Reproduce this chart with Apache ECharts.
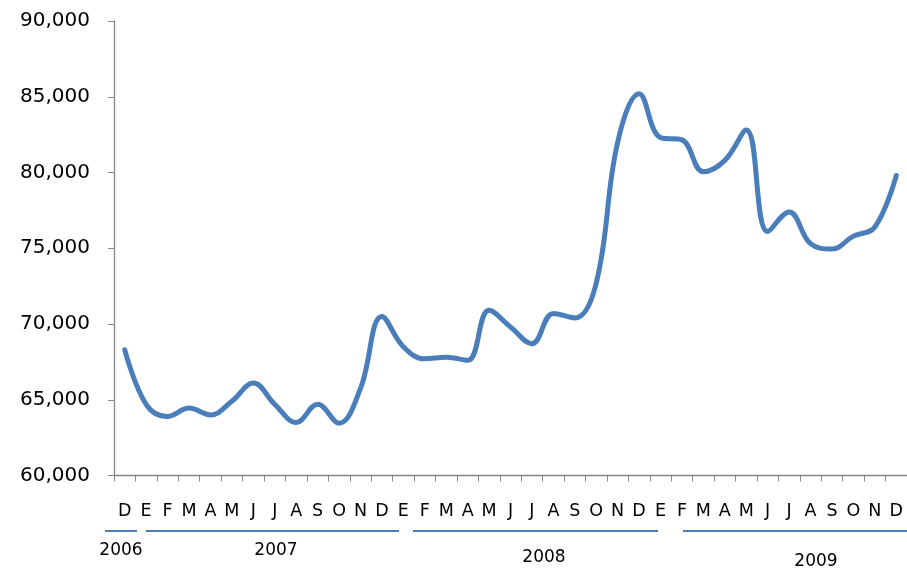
<!DOCTYPE html>
<html>
<head>
<meta charset="utf-8">
<script src="https://cdn.jsdelivr.net/npm/echarts@6/dist/echarts.min.js"></script>
<style>html,body{margin:0;padding:0;background:#fff;}#c{width:907px;height:568px;}</style>
</head>
<body>
<div id="c"></div>
<script>
var months = ["D","E","F","M","A","M","J","J","A","S","O","N","D","E","F","M","A","M","J","J","A","S","O","N","D","E","F","M","A","M","J","J","A","S","O","N","D"];
var values = [68300,64700,63900,64450,64000,64900,66100,64700,63500,64700,63450,65750,70500,68500,67700,67800,67600,70900,69800,68700,70700,70400,72700,82000,85200,82300,82150,80050,80800,82800,76100,77400,75300,74950,75800,76400,79800];
var yearLabels = ["2006","2007","2008","2009"];
var yTicks = {min:60000, max:90000, step:5000};

var chart = echarts.init(document.getElementById('c'), null, {renderer:'canvas'});
var font = 'DejaVu Sans';
var blue = '#4a7ebb';
function fmt(v){return v.toString().replace(/\B(?=(\d{3})+(?!\d))/g, ',');}
var yearPos = [
  {x:121, y:551, l:[105,137]},
  {x:276, y:551, l:[146,399]},
  {x:544, y:558, l:[413,658]},
  {x:816, y:562, l:[683,907]}
];
var graphics = [];
yearPos.forEach(function(p,i){
  graphics.push({type:'line', shape:{x1:p.l[0], y1:531, x2:p.l[1], y2:531}, style:{stroke:blue, lineWidth:2}});
  graphics.push({type:'text', x:p.x, y:p.y, style:{text:yearLabels[i], fill:'#000', font:'17px "'+font+'"', textAlign:'center', textVerticalAlign:'middle'}});
});
chart.setOption({
  animation:false,
  grid:{left:114, right:-2, top:21, bottom:92.5, containLabel:false},
  xAxis:{
    type:'category', data:months, boundaryGap:true,
    axisLine:{lineStyle:{color:'#868686', width:1.3}},
    axisTick:{show:true, length:6, interval:0, lineStyle:{color:'#868686'}},
    axisLabel:{interval:0, margin:27, color:'#000', fontFamily:font, fontSize:17.5}
  },
  yAxis:{
    type:'value', min:yTicks.min, max:yTicks.max, interval:yTicks.step,
    axisLine:{show:true, lineStyle:{color:'#868686', width:1.3}},
    axisTick:{show:true, length:6, lineStyle:{color:'#868686'}},
    splitLine:{show:false},
    axisLabel:{margin:24, color:'#000', fontFamily:font, fontSize:20, formatter:fmt}
  },
  series:[{
    type:'line', data:values, smooth:0.4, showSymbol:false,
    lineStyle:{color:blue, width:5, cap:'round'}
  }],
  graphic:graphics
});
</script>
</body>
</html>
